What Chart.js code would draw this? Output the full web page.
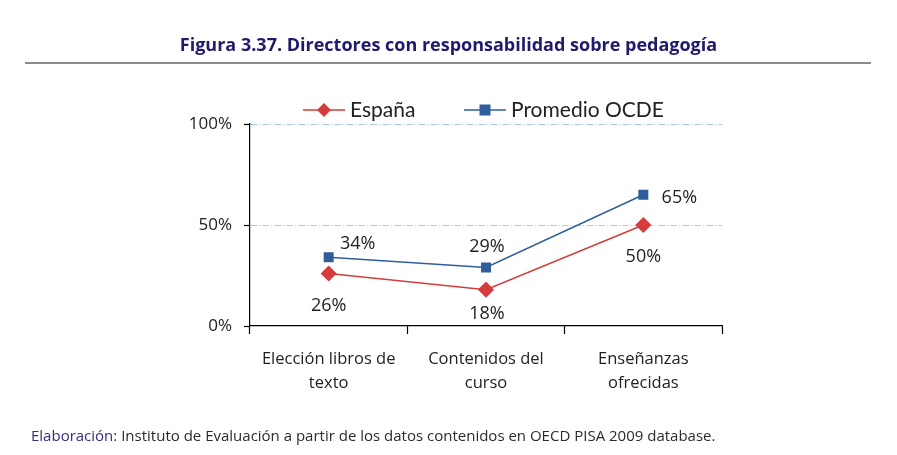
<!DOCTYPE html>
<html>
<head>
<meta charset="utf-8">
<script src="https://cdn.jsdelivr.net/npm/chart.js@4.4.1/dist/chart.umd.min.js"></script>
<style>
  html, body { margin: 0; padding: 0; background: #fff; }
  #wrap { position: relative; width: 897px; height: 455px; overflow: hidden; }
  #c { position: absolute; left: 0; top: 0; }
  #title { position: absolute; left: 0; width: 897px; top: 32px; text-align: center;
           font-family: "Open Sans", Lato, sans-serif; font-weight: bold; font-size: 18px; color: #1f1a6b; }
  #rule { position: absolute; left: 25px; width: 846px; top: 62px; height: 2px; background: #8a8a8a; }
  #foot { position: absolute; left: 31px; top: 425px; font-family: "Open Sans", Lato, sans-serif;
          font-size: 15px; color: #2b2b2b; white-space: nowrap; }
  #foot span { color: #3a2a80; }
</style>
</head>
<body>
<div id="wrap">
  <canvas id="c" width="897" height="455"></canvas>
  <div id="title">Figura 3.37. Directores con responsabilidad sobre pedagogía</div>
  <div id="rule"></div>
  <div id="foot"><span>Elaboración:</span> Instituto de Evaluación a partir de los datos contenidos en OECD PISA 2009 database.</div>
</div>
<script>
const categories = [["Elección libros de", "texto"], ["Contenidos del", "curso"], ["Enseñanzas", "ofrecidas"]];
const espana = [26, 18, 50];
const ocde = [34, 29, 65];
const seriesNames = ["España", "Promedio OCDE"];
const yTicks = [0, 50, 100];

const RED = "#d63c3c";
const BLUE = "#2f5e9b";
const FONT = "'Open Sans', Lato, sans-serif";

// label offsets relative to point (dx, dy)
const labelOffsets = [
  [[0, 32], [1, 24], [0, 32]],
  [[29, -13], [1, -21], [36, 3]]
];

const labelPlugin = {
  id: "pointLabels",
  afterDatasetsDraw(chart) {
    const ctx = chart.ctx;
    ctx.save();
    ctx.font = "18px " + FONT;
    ctx.fillStyle = "#222";
    ctx.textAlign = "center";
    ctx.textBaseline = "middle";
    chart.data.datasets.forEach((ds, di) => {
      const meta = chart.getDatasetMeta(di);
      meta.data.forEach((pt, i) => {
        const off = labelOffsets[di][i];
        ctx.fillText(ds.data[i] + "%", pt.x + off[0], pt.y + off[1]);
      });
    });
    ctx.restore();
  }
};

const legendPlugin = {
  id: "customLegend",
  afterDraw(chart) {
    const ctx = chart.ctx;
    ctx.save();
    const y = 110;
    const items = [
      { x: 303, color: RED, style: "diamond", text: seriesNames[0] },
      { x: 464, color: BLUE, style: "square", text: seriesNames[1] }
    ];
    ctx.font = "21px Lato, 'Open Sans', sans-serif";
    ctx.textBaseline = "middle";
    items.forEach(it => {
      ctx.strokeStyle = it.color;
      ctx.lineWidth = 1.5;
      ctx.beginPath();
      ctx.moveTo(it.x, y);
      ctx.lineTo(it.x + 42, y);
      ctx.stroke();
      ctx.fillStyle = it.color;
      const cx = it.x + 21;
      if (it.style === "diamond") {
        ctx.beginPath();
        ctx.moveTo(cx, y - 7); ctx.lineTo(cx + 7, y); ctx.lineTo(cx, y + 7); ctx.lineTo(cx - 7, y);
        ctx.closePath(); ctx.fill();
      } else {
        ctx.fillRect(cx - 5.5, y - 5.5, 11, 11);
      }
      ctx.fillStyle = "#222";
      ctx.textAlign = "left";
      ctx.fillText(it.text, it.x + 47, y);
    });
    ctx.restore();
  }
};

new Chart(document.getElementById("c"), {
  type: "line",
  data: {
    labels: categories,
    datasets: [
      { label: seriesNames[0], data: espana, borderColor: RED, backgroundColor: RED,
        borderWidth: 1.5, pointStyle: "rectRot", pointRadius: 7, pointHoverRadius: 7, tension: 0 },
      { label: seriesNames[1], data: ocde, borderColor: BLUE, backgroundColor: BLUE,
        borderWidth: 1.5, pointStyle: "rect", pointRadius: 6, pointHoverRadius: 6, tension: 0 }
    ]
  },
  options: {
    responsive: false,
    animation: false,
    layout: { padding: { top: 124, right: 175, left: 0, bottom: 0 } },
    plugins: { legend: { display: false }, tooltip: { enabled: false }, title: { display: false } },
    scales: {
      x: {
        offset: true,
        grid: { offset: true, drawOnChartArea: false, drawTicks: true, tickLength: 8, tickColor: "#000", tickWidth: 1.2 },
        border: { color: "#000", width: 1.2 },
        ticks: { color: "#222", font: { family: FONT, size: 16.5, lineHeight: 1.45 }, padding: 13, maxRotation: 0, autoSkip: false },
        afterFit(s) { s.height = 455 - 326; }
      },
      y: {
        min: 0, max: 100,
        afterBuildTicks(s) { s.ticks = yTicks.map(v => ({ value: v })); },
        grid: {
          color: ctx => (ctx.tick && ctx.tick.value === 0) ? "rgba(0,0,0,0)" : "#a9cde8",
          lineWidth: 1, drawTicks: true, tickLength: 6, tickColor: "#000", tickWidth: 1.2
        },
        border: { color: "#000", width: 1.2, dash: [7, 2, 1, 2] },
        ticks: { color: "#222", font: { family: FONT, size: 17 }, padding: 12, callback: v => v + "%" },
        afterFit(s) { s.width = 250; }
      }
    }
  },
  plugins: [labelPlugin, legendPlugin]
});
</script>
</body>
</html>
